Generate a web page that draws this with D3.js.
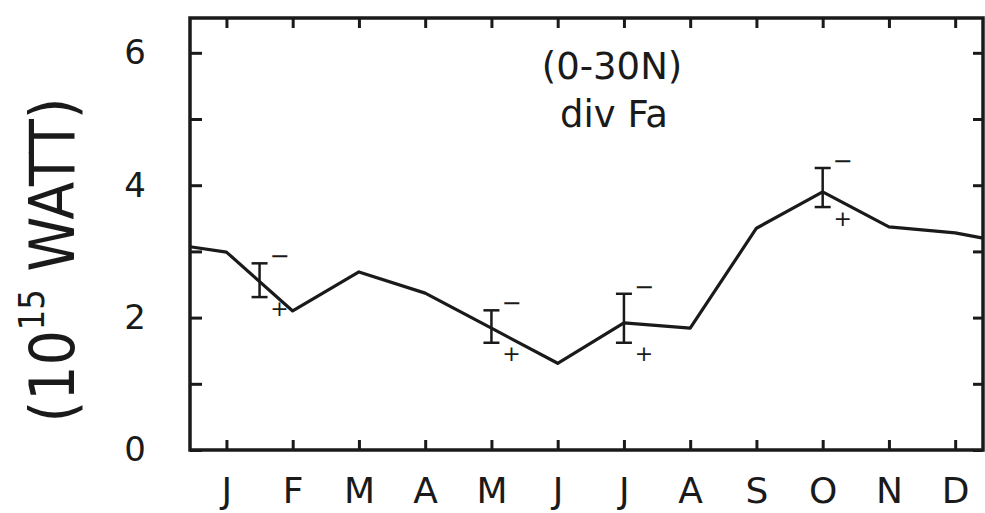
<!DOCTYPE html>
<html>
<head>
<meta charset="utf-8">
<script src="https://cdn.jsdelivr.net/npm/d3@7"></script>
<style>
  html, body { margin: 0; padding: 0; background: #fff; }
  svg { display: block; }
  text { font-family: "DejaVu Sans", sans-serif; fill: #1a1a1a; }
</style>
</head>
<body>
<svg id="chart" width="985" height="513"></svg>
<script>
// ---- data ----
const months = ["J", "F", "M", "A", "M", "J", "J", "A", "S", "O", "N", "D"];
const monthIndex = [0, 1, 2, 3, 4, 5, 6, 7, 8, 9, 10, 11];
const divFa = [2.99, 2.10, 2.69, 2.37, 1.84, 1.31, 1.92, 1.84, 3.35, 3.90, 3.37, 3.28];
const edgeStart = 3.07;   // value where the curve meets the left frame
const edgeEnd = 3.20;     // value where the curve meets the right frame
const errPos = [0.5, 4, 6, 9];
const errLow = [2.31, 1.62, 1.62, 3.67];
const errHigh = [2.82, 2.11, 2.36, 4.26];
const yTicks = [0, 1, 2, 3, 4, 5, 6];
const yLabels = ["0", "", "2", "", "4", "", "6"];
const titleLines = ["(0-30N)", "div Fa"];

// ---- layout ----
const L = 190, R = 983, T = 18, B = 450;
const ink = "#1a1a1a";
const xMin = -0.55, xMax = 11.42;
const x = d3.scaleLinear().domain([xMin, xMax]).range([L, R]);
const y = d3.scaleLinear().domain([0, 6.526]).range([B, T]);

const svg = d3.select("#chart");
svg.append("rect").attr("width", 985).attr("height", 513).attr("fill", "#fff");

// axes (ticks inward on all four sides)
const gB = svg.append("g").attr("transform", `translate(0,${B})`)
  .call(d3.axisBottom(x).tickValues(monthIndex).tickSizeInner(-10).tickSizeOuter(0)
    .tickPadding(27).tickFormat(i => months[i]));
const gT = svg.append("g").attr("transform", `translate(0,${T})`)
  .call(d3.axisTop(x).tickValues(monthIndex).tickSizeInner(-10).tickSizeOuter(0).tickFormat(""));
const gL = svg.append("g").attr("transform", `translate(${L},0)`)
  .call(d3.axisLeft(y).tickValues(yTicks).tickSizeInner(-12).tickSizeOuter(0)
    .tickPadding(43).tickFormat((d, i) => yLabels[i]));
const gR = svg.append("g").attr("transform", `translate(${R},0)`)
  .call(d3.axisRight(y).tickValues(yTicks).tickSizeInner(-10).tickSizeOuter(0).tickFormat(""));

[gB, gT, gL, gR].forEach(g => {
  g.select(".domain").remove();
  g.selectAll(".tick line").attr("stroke", ink).attr("stroke-width", 3);
});
gB.selectAll(".tick text").attr("font-size", 36).attr("fill", ink)
  .attr("font-family", "DejaVu Sans");
gL.selectAll(".tick text").attr("font-size", 34).attr("fill", ink)
  .attr("font-family", "DejaVu Sans").attr("text-anchor", "middle").attr("dx", "-0.35em");

// frame
svg.append("rect").attr("x", L).attr("y", T).attr("width", R - L).attr("height", B - T)
  .attr("fill", "none").attr("stroke", ink).attr("stroke-width", 3.5);

// curve
const pts = [[xMin, edgeStart]]
  .concat(monthIndex.map((m, i) => [m, divFa[i]]))
  .concat([[xMax, edgeEnd]]);
svg.append("path").datum(pts)
  .attr("d", d3.line().x(d => x(d[0])).y(d => y(d[1])))
  .attr("fill", "none").attr("stroke", ink).attr("stroke-width", 3.2)
  .attr("stroke-linejoin", "round");

// error bars
const eb = svg.append("g");
errPos.forEach((p, i) => {
  const cx = x(p), y1 = y(errHigh[i]), y2 = y(errLow[i]);
  eb.append("line").attr("x1", cx).attr("x2", cx).attr("y1", y1).attr("y2", y2)
    .attr("stroke", ink).attr("stroke-width", 2.5);
  [y1, y2].forEach(yy => eb.append("line").attr("x1", cx - 8).attr("x2", cx + 8)
    .attr("y1", yy).attr("y2", yy).attr("stroke", ink).attr("stroke-width", 2.5));
  eb.append("text").attr("x", cx + 20).attr("y", y1 - 7).attr("text-anchor", "middle")
    .attr("dominant-baseline", "central").attr("font-size", 24).text("\u2212");
  eb.append("text").attr("x", cx + 20).attr("y", y2 + 11).attr("text-anchor", "middle")
    .attr("dominant-baseline", "central").attr("font-size", 22).text("+");
});

// title
svg.append("text").attr("x", 612).attr("y", 79).attr("text-anchor", "middle")
  .attr("font-size", 37).text(titleLines[0]);
svg.append("text").attr("x", 614).attr("y", 127).attr("text-anchor", "middle")
  .attr("font-size", 37).text(titleLines[1]);

// y-axis title
const yt = svg.append("g").attr("transform", "translate(74,260) rotate(-90)");
const inner = yt.append("g");
const tt = inner.append("text").attr("text-anchor", "middle").attr("font-size", 62);
tt.append("tspan").text("(10");
tt.append("tspan").attr("font-size", 36).attr("dy", -30).text("15");
tt.append("tspan").attr("dy", 30).text(" WATT)");
const len = tt.node().getComputedTextLength();
inner.attr("transform", `scale(${325 / len},1)`);
</script>
</body>
</html>
